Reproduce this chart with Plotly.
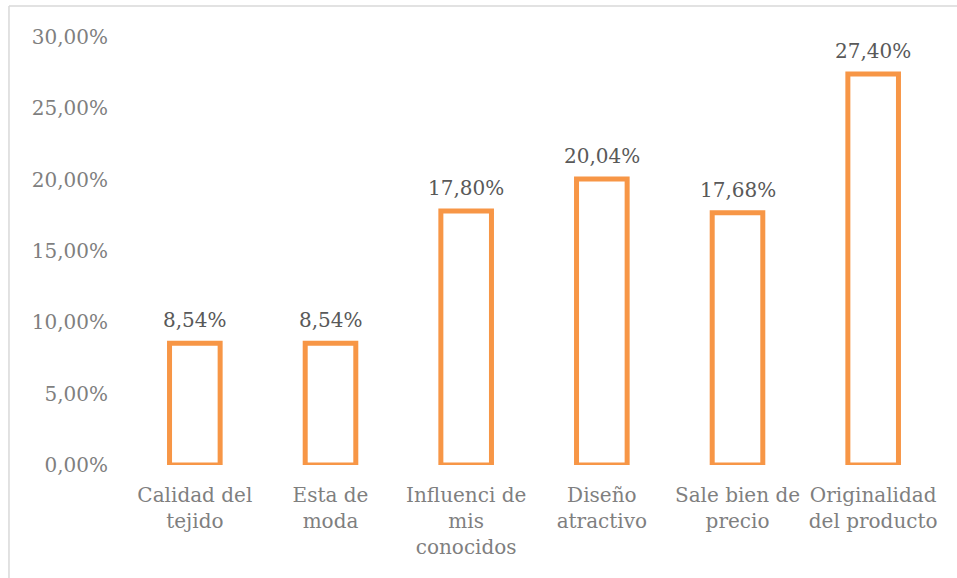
import plotly.graph_objects as go

# Reasons for choosing the product (share of respondents)
categories = [
    "Calidad del<br>tejido",
    "Esta de<br>moda",
    "Influenci de<br>mis<br>conocidos",
    "Diseño<br>atractivo",
    "Sale bien de<br>precio",
    "Originalidad<br>del producto",
]
shares = [0.0854, 0.0854, 0.1780, 0.2004, 0.1768, 0.2740]
y_ticks = [0.0, 0.05, 0.10, 0.15, 0.20, 0.25, 0.30]

ORANGE = "#F79646"
FONT = "DejaVu Serif"

fig = go.Figure(
    go.Bar(
        x=categories,
        y=shares,
        width=0.373,
        marker=dict(color="rgba(0,0,0,0)", line=dict(color=ORANGE, width=5)),
        cliponaxis=False,
        hoverinfo="skip",
    )
)

# Value labels above each bar (decimal comma)
for cat, val in zip(categories, shares):
    fig.add_annotation(
        x=cat, y=val, xref="x", yref="y",
        text=f"{val * 100:.2f}%".replace(".", ","),
        showarrow=False, yanchor="bottom", yshift=9,
        font=dict(family=FONT, size=20, color="#595959"),
    )

fig.update_layout(
    width=957,
    height=578,
    separators=",.",
    paper_bgcolor="white",
    plot_bgcolor="white",
    margin=dict(l=127, r=16, t=37, b=113),
    showlegend=False,
    font=dict(family=FONT, size=20, color="#7F7F7F"),
    xaxis=dict(
        showgrid=False,
        showline=False,
        zeroline=False,
        ticks="",
        ticklabelstandoff=16,
        tickfont=dict(family=FONT, size=20, color="#7F7F7F"),
    ),
    yaxis=dict(
        range=[0, 0.30],
        tickvals=y_ticks,
        tickformat=".2%",
        showgrid=False,
        showline=False,
        zeroline=False,
        ticks="",
        ticklabelstandoff=18,
        tickfont=dict(family=FONT, size=20, color="#7F7F7F"),
    ),
    bargap=0.6,
)

# Light chart-area frame (top and left edges)
fig.add_shape(
    type="line", xref="paper", yref="paper",
    x0=-0.145, x1=1.05, y0=1.0724, y1=1.0724,
    line=dict(color="#D9D9D9", width=1.5),
)
fig.add_shape(
    type="line", xref="paper", yref="paper",
    x0=-0.145, x1=-0.145, y0=-0.3, y1=1.0724,
    line=dict(color="#D9D9D9", width=1.5),
)

fig.write_html("out.html")
